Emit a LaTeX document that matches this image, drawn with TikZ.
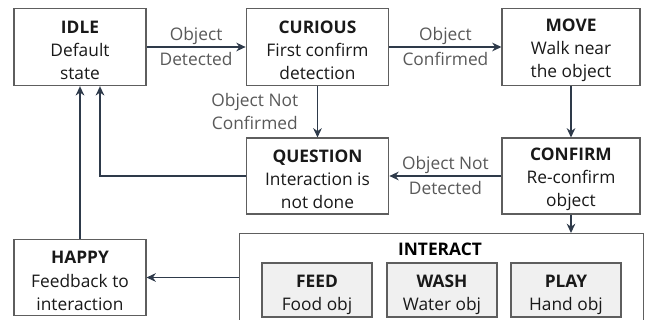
\documentclass[tikz,border=0pt]{standalone}
\usepackage{fontspec}
\setmainfont{Open Sans}
\usetikzlibrary{arrows.meta}

\definecolor{boxline}{HTML}{5E5E5E}
\definecolor{wire}{HTML}{2E3A4A}
\definecolor{cond}{HTML}{595959}
\definecolor{subfill}{HTML}{F0F0F0}

% bold state name, with a strut that pushes the block down a little
\newcommand{\sthead}[1]{\rule{0pt}{14.5pt}\textbf{#1}}
\newcommand{\subhead}[1]{\rule{0pt}{17pt}\textbf{#1}}

\begin{document}
\begin{tikzpicture}[x=0.75pt,y=-0.75pt,
    every node/.style={font=\fontsize{13pt}{17.5pt}\selectfont},
    state/.style={draw=boxline, line width=0.8pt, align=center, inner sep=0pt,
        minimum height=58pt, text=black!90},
    substate/.style={state, fill=subfill, minimum width=82.5pt, minimum height=40.5pt},
    trans/.style={draw=wire, line width=1pt, -{Stealth[length=7pt,width=6.5pt]}},
    cond/.style={text=cond, inner sep=1pt},
    condlow/.style={cond, inner sep=3.5pt}]
    \clip (0,0) rectangle (645,320);

    % states
    \node[state, minimum width=99pt] (idle) at (80,47) {\sthead{IDLE}\\Default\\state};
    \node[state, minimum width=107pt] (curious) at (317.5,47) {\sthead{CURIOUS}\\First confirm\\detection};
    \node[state, minimum width=103.5pt] (move) at (571,47) {\sthead{MOVE}\\Walk near\\the object};
    \node[state, minimum width=107pt, minimum height=57pt] (question) at (317.5,176) {\sthead{QUESTION}\\Interaction is\\not done};
    \node[state, minimum width=103.5pt, minimum height=57pt] (confirm) at (571,176) {\sthead{CONFIRM}\\Re-confirm\\object};
    \node[state, minimum width=99pt, minimum height=57.5pt] (happy) at (80,277.5) {\sthead{HAPPY}\\Feedback to\\interaction};

    % interact group, runs off the bottom edge
    \node[draw=boxline, line width=0.8pt, anchor=north west, minimum width=303pt, minimum height=80pt] (interact) at (239,233) {};
    \node[inner sep=0pt] (interacttitle) at (440,249) {\textbf{INTERACT}};
    \node[substate] (feed) at (317,290) {\subhead{FEED}\\Food obj};
    \node[substate] (wash) at (442,290) {\subhead{WASH}\\Water obj};
    \node[substate] (play) at (566,290) {\subhead{PLAY}\\Hand obj};

    % transitions
    \draw[trans] (idle.east) -- (curious.west)
        node[cond, midway, above] {Object} node[condlow, midway, below] {Detected};
    \draw[trans] (curious.east) -- (move.west)
        node[cond, midway, above] {Object} node[condlow, midway, below] {Confirmed};
    \draw[trans] (curious.south) -- (question.north)
        node[cond, midway, left, align=center, xshift=-13pt] {Object Not\\Confirmed};
    \draw[trans] (move.south) -- (confirm.north);
    \draw[trans] (confirm.west) -- (question.east)
        node[cond, midway, above] {Object Not} node[condlow, midway, below] {Detected};
    \draw[trans] (confirm.south) -- (confirm.south |- interact.north);
    \draw[trans] (interact.west |- happy.east) -- (happy.east);
    \draw[trans] (happy.north) -- (idle.south);
    \coordinate (idleback) at ([xshift=15pt]idle.south);
    \draw[trans] (question.west) -| (idleback);
\end{tikzpicture}
\end{document}
